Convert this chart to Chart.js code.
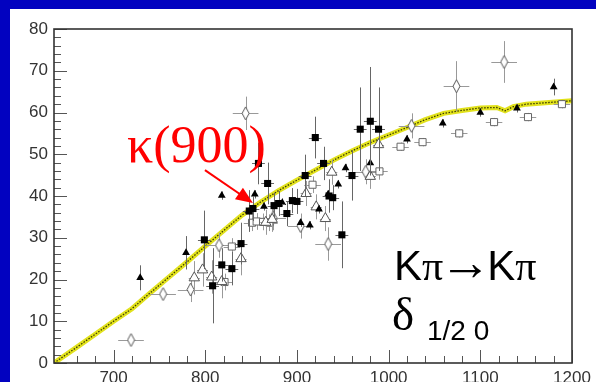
<!DOCTYPE html>
<html>
<head>
<meta charset="utf-8">
<script src="https://cdn.jsdelivr.net/npm/chart.js@4.4.0/dist/chart.umd.min.js"></script>
<style>
  html, body { margin: 0; padding: 0; background: #0202c0; }
  #wrap { width: 596px; height: 382px; }
  canvas { display: block; }
</style>
</head>
<body>
<div id="wrap"><canvas id="phase" width="596" height="382"></canvas></div>
<script>
// Axis tick labels
const xTickLabels = [700, 800, 900, 1000, 1100, 1200];
const yTickLabels = [0, 10, 20, 30, 40, 50, 60, 70, 80];

// Fit curve: mass (MeV) vs phase (deg)
const fitMass  = [635, 660, 680, 700, 720, 740, 760, 780, 800, 820, 840, 860, 880, 900, 920, 940, 960, 980, 1000, 1020, 1040, 1060, 1080, 1100, 1118, 1127, 1136, 1150, 1175, 1200];
const fitPhase = [0, 3.8, 6.9, 10.0, 13.0, 16.8, 20.5, 24.2, 28.0, 31.7, 35.4, 38.5, 41.3, 43.8, 46.2, 48.6, 50.8, 52.8, 54.6, 56.4, 58.3, 59.8, 60.5, 61.1, 61.2, 60.4, 61.4, 62.0, 62.4, 62.8];

// Filled squares
const sqMass  = [799, 808, 818, 829, 839, 848, 852, 858, 868, 875, 880, 889, 895, 900, 909, 920, 929, 935, 939, 949, 960, 969, 980, 989];
const sqPhase = [29.5, 18.5, 23.5, 22.6, 28.6, 36.4, 37.0, 47.8, 43.0, 37.7, 38.2, 35.8, 38.9, 38.7, 44.9, 54.0, 47.8, 40.0, 39.6, 30.7, 44.9, 56.0, 57.9, 56.0];
const sqErr   = [7, 9, 4, 4, 5, 5, 3, 5, 5, 3, 3, 3, 3, 3, 5, 5, 4, 4, 3, 8, 6, 10, 13, 10];
const sqBin = 7;

// Filled triangles
const triMass  = [729, 779, 818, 854, 864, 884, 904, 914, 924, 934, 945, 953, 980, 1020, 1059, 1100, 1140, 1180];
const triPhase = [20.4, 26.4, 40.1, 40.4, 37.5, 38.4, 33.6, 33.0, 36.8, 40.4, 42.8, 46.7, 47.9, 53.6, 57.4, 60.0, 61.0, 66.1];
const triErr   = [3, 4, 1, 1, 1, 1, 1, 1, 1, 1, 1, 1, 1, 1, 1, 1, 1, 2];

// Open squares
const oSqMass  = [821, 829, 851, 856, 863, 870, 917, 990, 1013, 1037, 1077, 1115, 1152, 1189];
const oSqPhase = [19.4, 27.9, 33.6, 33.9, 33.8, 33.6, 42.7, 45.9, 51.8, 52.9, 55.0, 57.7, 58.9, 62.0];
const oSqErr   = [2, 2, 2, 2, 2, 2, 2, 2, 1, 1, 1, 1, 1, 1];
const oSqBin = 9;

// Open triangles
const oTriMass  = [788, 797, 807, 818, 839, 866, 873, 910, 921, 931, 938, 980, 989];
const oTriPhase = [20.4, 22.3, 20.6, 19.5, 25.0, 33.7, 34.4, 40.6, 37.4, 34.6, 45.7, 44.7, 52.3];
const oTriErr   = [4, 4, 4, 4, 4, 3, 3, 3, 3, 3, 3, 3, 3];
const oTriBin = 6;

// Open diamonds
const diaMass  = [719, 754, 784, 815, 844, 874, 904, 934, 975, 1025, 1074, 1126];
const diaPhase = [5.5, 16.5, 17.6, 28.2, 59.8, 34.8, 32.8, 28.5, 45.8, 56.8, 66.3, 72.1];
const diaErr   = [1, 1, 3, 3, 4, 3, 3, 4, 3, 3, 6, 5];
const diaBin = 14;

// kappa arrow tip (mass, phase)
const kappaTip = [852, 38.3];

const toPoints = (xs, ys) => xs.map((x, i) => ({ x: x, y: ys[i] }));

const SANS = '"Liberation Sans", Arial, sans-serif';
const SERIF = '"Liberation Serif", "Times New Roman", serif';

// Elongated open diamond marker
function diamondIcon(w, h) {
  const c = document.createElement('canvas');
  c.width = w + 2;
  c.height = h + 2;
  const g = c.getContext('2d');
  g.beginPath();
  g.moveTo(c.width / 2, 1);
  g.lineTo(c.width - 1, c.height / 2);
  g.lineTo(c.width / 2, c.height - 1);
  g.lineTo(1, c.height / 2);
  g.closePath();
  g.fillStyle = '#fff';
  g.fill();
  g.strokeStyle = '#555';
  g.lineWidth = 1;
  g.stroke();
  return c;
}

// Error bars drawn just beneath each marker set
const errorBars = {
  id: 'errorBars',
  beforeDatasetDraw(chart, args) {
    const ds = chart.data.datasets[args.index];
    if (!ds.errY) return;
    const { ctx, scales: { x, y } } = chart;
    ctx.save();
    ctx.strokeStyle = ds.errColor;
    ctx.lineWidth = 1;
    ds.data.forEach((p, i) => {
      const px = Math.round(x.getPixelForValue(p.x)) + 0.5;
      const py = Math.round(y.getPixelForValue(p.y)) + 0.5;
      ctx.beginPath();
      const ey = ds.errY[i];
      if (ey) {
        ctx.moveTo(px, y.getPixelForValue(p.y + ey));
        ctx.lineTo(px, y.getPixelForValue(p.y - ey));
      }
      if (ds.errX) {
        ctx.moveTo(x.getPixelForValue(p.x - ds.errX), py);
        ctx.lineTo(x.getPixelForValue(p.x + ds.errX), py);
      }
      ctx.stroke();
    });
    ctx.restore();
  }
};

// Background panel, frame and inward ticks
const frame = {
  id: 'frame',
  beforeDraw(chart) {
    const ctx = chart.ctx;
    ctx.save();
    ctx.fillStyle = '#0202c0';
    ctx.fillRect(0, 0, chart.width, chart.height);
    ctx.fillStyle = '#fff';
    ctx.fillRect(10, 9, chart.width - 10, chart.height - 9);
    ctx.restore();
  },
  afterDatasetsDraw(chart) {
    const { ctx, chartArea: a, scales: { x, y } } = chart;
    ctx.save();
    ctx.strokeStyle = '#555';
    ctx.lineWidth = 1;
    ctx.beginPath();
    for (let v = 640; v <= 1200; v += 20) {
      if (v < 645) continue;
      const px = Math.round(x.getPixelForValue(v)) + 0.5;
      const len = v % 100 === 0 ? 13 : 7;
      ctx.moveTo(px, a.bottom);
      ctx.lineTo(px, a.bottom - len);
    }
    for (let v = 0; v <= 80; v += 2) {
      const py = Math.round(y.getPixelForValue(v)) + 0.5;
      const len = v % 10 === 0 ? 13 : 7;
      ctx.moveTo(a.left, py);
      ctx.lineTo(a.left + len, py);
    }
    ctx.stroke();
    ctx.strokeStyle = '#333';
    ctx.lineWidth = 1.6;
    ctx.strokeRect(a.left, a.top, a.right - a.left, a.bottom - a.top);
    ctx.restore();
  }
};

// Write a run of [text, font, kern] pieces side by side
function writeRun(ctx, pieces, x, y) {
  pieces.forEach(([text, font, kern]) => {
    ctx.font = font;
    x += kern || 0;
    ctx.fillText(text, x, y);
    x += ctx.measureText(text).width + (kern || 0);
  });
}

// Labels and the kappa arrow
const notes = {
  id: 'notes',
  afterDraw(chart) {
    const { ctx, scales: { x, y } } = chart;
    ctx.save();
    const tx = x.getPixelForValue(kappaTip[0]);
    const ty = y.getPixelForValue(kappaTip[1]);
    const sx = tx - 48, sy = ty - 33;
    const ang = Math.atan2(ty - sy, tx - sx);
    ctx.strokeStyle = '#ff0000';
    ctx.fillStyle = '#ff0000';
    ctx.lineWidth = 2;
    ctx.beginPath();
    ctx.moveTo(sx, sy);
    ctx.lineTo(tx - 12 * Math.cos(ang), ty - 12 * Math.sin(ang));
    ctx.stroke();
    ctx.beginPath();
    ctx.moveTo(tx, ty);
    ctx.lineTo(tx - 17 * Math.cos(ang) + 7 * Math.sin(ang), ty - 17 * Math.sin(ang) - 7 * Math.cos(ang));
    ctx.lineTo(tx - 17 * Math.cos(ang) - 7 * Math.sin(ang), ty - 17 * Math.sin(ang) + 7 * Math.cos(ang));
    ctx.closePath();
    ctx.fill();

    ctx.textBaseline = 'alphabetic';
    ctx.textAlign = 'left';
    ctx.font = '52px ' + SERIF;
    ctx.fillText('κ(900)', 127, 162);

    ctx.fillStyle = '#000';
    writeRun(ctx, [
      ['K', '42px ' + SANS],
      ['π', '42px ' + SERIF],
      ['→', '52px ' + SERIF, -4],
      ['K', '42px ' + SANS],
      ['π', '42px ' + SERIF]
    ], 394, 280);
    ctx.font = '47px ' + SERIF;
    ctx.fillText('δ', 392, 330);
    ctx.font = '28px ' + SANS;
    ctx.fillText('1/2 0', 427, 340);
    ctx.restore();
  }
};

const tickFont = { family: SANS, size: 17 };

new Chart(document.getElementById('phase'), {
  type: 'scatter',
  data: {
    datasets: [
      {
        data: toPoints(sqMass, sqPhase), errY: sqErr, errX: sqBin, errColor: '#666',
        pointStyle: 'rect', pointRadius: 5, backgroundColor: '#000', borderColor: '#000', borderWidth: 0
      },
      {
        data: toPoints(triMass, triPhase), errY: triErr, errX: 0, errColor: '#666',
        pointStyle: 'triangle', pointRadius: 4.5, backgroundColor: '#000', borderColor: '#000', borderWidth: 0
      },
      {
        data: toPoints(oTriMass, oTriPhase), errY: oTriErr, errX: oTriBin, errColor: '#999',
        pointStyle: 'triangle', pointRadius: 6, backgroundColor: '#fff', borderColor: '#555', borderWidth: 1
      },
      {
        data: toPoints(oSqMass, oSqPhase), errY: oSqErr, errX: oSqBin, errColor: '#999',
        pointStyle: 'rect', pointRadius: 5, backgroundColor: '#fff', borderColor: '#666', borderWidth: 1
      },
      {
        data: toPoints(diaMass, diaPhase), errY: diaErr, errX: diaBin, errColor: '#999',
        pointStyle: diamondIcon(7, 13), pointRadius: 6
      },
      {
        data: toPoints(fitMass, fitPhase), showLine: true, pointRadius: 0,
        borderColor: '#3c3c00', borderWidth: 1.3, borderDash: [1.5, 1.5]
      },
      {
        data: toPoints(fitMass, fitPhase), showLine: true, pointRadius: 0,
        borderColor: '#e2e21c', borderWidth: 5
      }
    ]
  },
  options: {
    responsive: false,
    animation: false,
    devicePixelRatio: 1,
    layout: { padding: { left: 10, top: 29, right: 24, bottom: 0 } },
    plugins: { legend: { display: false }, tooltip: { enabled: false } },
    scales: {
      x: {
        type: 'linear', min: 635, max: 1200,
        afterBuildTicks: s => { s.ticks = xTickLabels.map(v => ({ value: v })); },
        afterFit: s => { s.height = 19; },
        grid: { display: false, drawTicks: false },
        border: { display: false },
        ticks: { color: '#333', font: tickFont, padding: 5, maxRotation: 0, autoSkip: false, callback: v => String(v) }
      },
      y: {
        type: 'linear', min: 0, max: 80,
        afterBuildTicks: s => { s.ticks = yTickLabels.map(v => ({ value: v })); },
        afterFit: s => { s.width = 44; },
        grid: { display: false, drawTicks: false },
        border: { display: false },
        ticks: { color: '#333', font: tickFont, padding: 6, callback: v => String(v) }
      }
    }
  },
  plugins: [frame, errorBars, notes]
});
</script>
</body>
</html>
